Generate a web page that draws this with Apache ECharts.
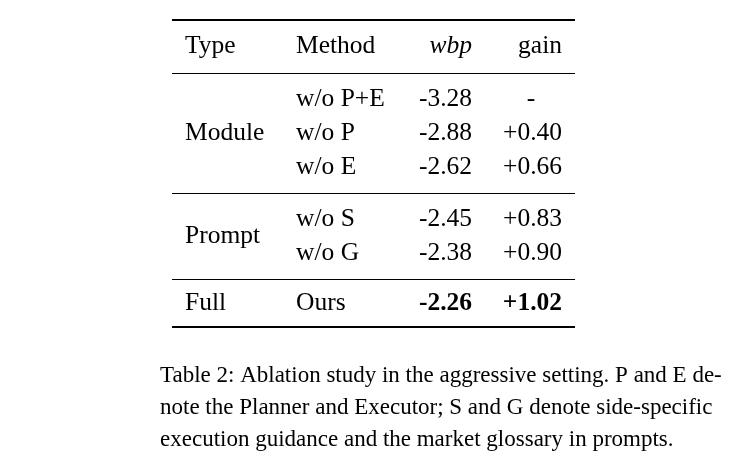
<!DOCTYPE html>
<html><head><meta charset="utf-8">
<script src="https://cdn.jsdelivr.net/npm/echarts@6/dist/echarts.min.js"></script>
<style>html,body{margin:0;background:#fff}#c{width:746px;height:473px}</style>
</head><body><div id="c"></div>
<script>
const headers = ['Type','Method','wbp','gain'];
const types = ['Module','Prompt','Full'];
const methods = ['w/o P+E','w/o P','w/o E','w/o S','w/o G','Ours'];
const wbp = ['-3.28','-2.88','-2.62','-2.45','-2.38','-2.26'];
const gain = ['-','+0.40','+0.66','+0.83','+0.90','+1.02'];
const caption = ['Table 2: Ablation study in the aggressive setting. P and E de-',
 'note the Planner and Executor; S and G denote side-specific',
 'execution guidance and the market glossary in prompts.'];

const F = 'Liberation Serif, Times New Roman, serif';
const FS = '25.5px ';
const rowY = [99,133,167,219,253,303];
const typeY = [133,236,303];
const g = [];
function txt(x,y,s,align,extra){g.push({type:'text',x:x,y:y,style:Object.assign({text:s,font:FS+F,fill:'#000',textAlign:align||'left',textVerticalAlign:'middle'},extra||{})});}
function line(y,w){g.push({type:'line',shape:{x1:172,y1:y,x2:575,y2:y},style:{stroke:'#000',lineWidth:w}});}
line(20,2);line(73.5,1);line(193.5,1);line(279.5,1);line(327,2);
txt(185,46,headers[0]);txt(296,46,headers[1]);
txt(472,46,headers[2],'right',{font:'italic '+FS+F});
txt(562,46,headers[3],'right');
types.forEach((t,i)=>txt(185,typeY[i],t));
methods.forEach((m,i)=>{
  const bold = i===methods.length-1;
  const ex = bold?{font:'bold '+FS+F}:{};
  txt(296,rowY[i],m);
  txt(472,rowY[i],wbp[i],'right',ex);
  if(gain[i]==='-') txt(531,rowY[i],gain[i],'center');
  else txt(562,rowY[i],gain[i],'right',ex);
});
caption.forEach((c,i)=>txt(160,376+i*32,c,'left',{font:'23px '+F}));
const chart = echarts.init(document.getElementById('c'));
chart.setOption({animation:false,graphic:g});
</script></body></html>
